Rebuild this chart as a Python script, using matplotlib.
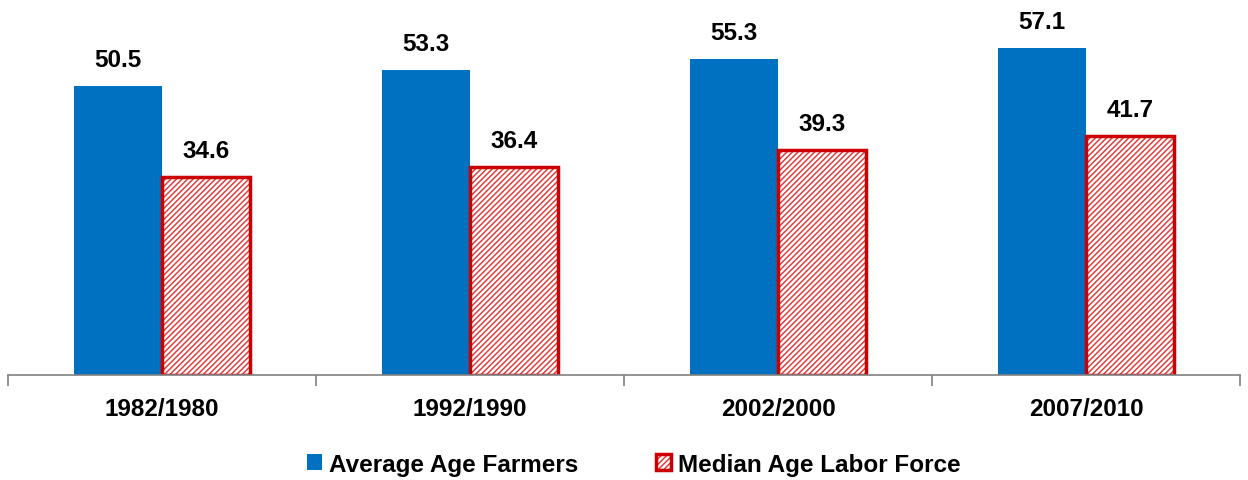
import matplotlib
matplotlib.use('Agg')
import matplotlib.pyplot as plt
from matplotlib.legend_handler import HandlerTuple
import numpy as np

plt.rcParams['font.family'] = ['Liberation Sans', 'DejaVu Sans']
plt.rcParams['hatch.linewidth'] = 1.1

categories = ['1982/1980', '1992/1990', '2002/2000', '2007/2010']
farmers = [50.5, 53.3, 55.3, 57.1]
labor = [34.6, 36.4, 39.3, 41.7]

blue = '#0070C0'
red = '#CC0000'

fig = plt.figure(figsize=(12.48, 4.81), dpi=100)
ax = fig.add_axes([8 / 1248, 105 / 481, 1232 / 1248, 372 / 481])

x = np.arange(len(categories))
w = 0.285

b1 = ax.bar(x - w / 2, farmers, w, color=blue)
# hatch in a lighter red, outline drawn on top in strong red
b2h = ax.bar(x + w / 2, labor, w, facecolor='white', edgecolor='#E04040',
             hatch='//////', linewidth=0)
b2 = ax.bar(x + w / 2, labor, w, fill=False, edgecolor=red, linewidth=2.5)

fs = 17.5
for rect, v in zip(b1, farmers):
    ax.text(rect.get_x() + rect.get_width() / 2, v + 2.6, f'{v:.1f}',
            ha='center', va='bottom', fontsize=fs, fontweight='bold')
for rect, v in zip(b2, labor):
    ax.text(rect.get_x() + rect.get_width() / 2, v + 2.6, f'{v:.1f}',
            ha='center', va='bottom', fontsize=fs, fontweight='bold')

ax.set_xlim(-0.5, 3.5)
ax.set_ylim(0, 65)
ax.set_yticks([])
for s in ['top', 'right', 'left']:
    ax.spines[s].set_visible(False)
ax.spines['bottom'].set_color('#808080')
ax.spines['bottom'].set_linewidth(1.2)

ax.set_xticks(x)
ax.set_xticklabels(categories, fontsize=fs, fontweight='bold')
ax.tick_params(axis='x', which='major', length=0, pad=16)
ax.set_xticks(np.arange(-0.5, 4.0, 1.0), minor=True)
ax.tick_params(axis='x', which='minor', length=8, width=1.2, color='#808080', direction='out')

fig.legend([b1, (b2h, b2)], ['Average Age Farmers', 'Median Age Labor Force'],
           handler_map={tuple: HandlerTuple(ndivide=1, pad=0)},
           loc='center', bbox_to_anchor=(0.508, 0.033), ncol=2, frameon=False,
           prop={'size': fs, 'weight': 'bold'}, handlelength=0.6, handleheight=0.6,
           columnspacing=3.2, handletextpad=0.3)

fig.savefig('out.png', dpi=100)
